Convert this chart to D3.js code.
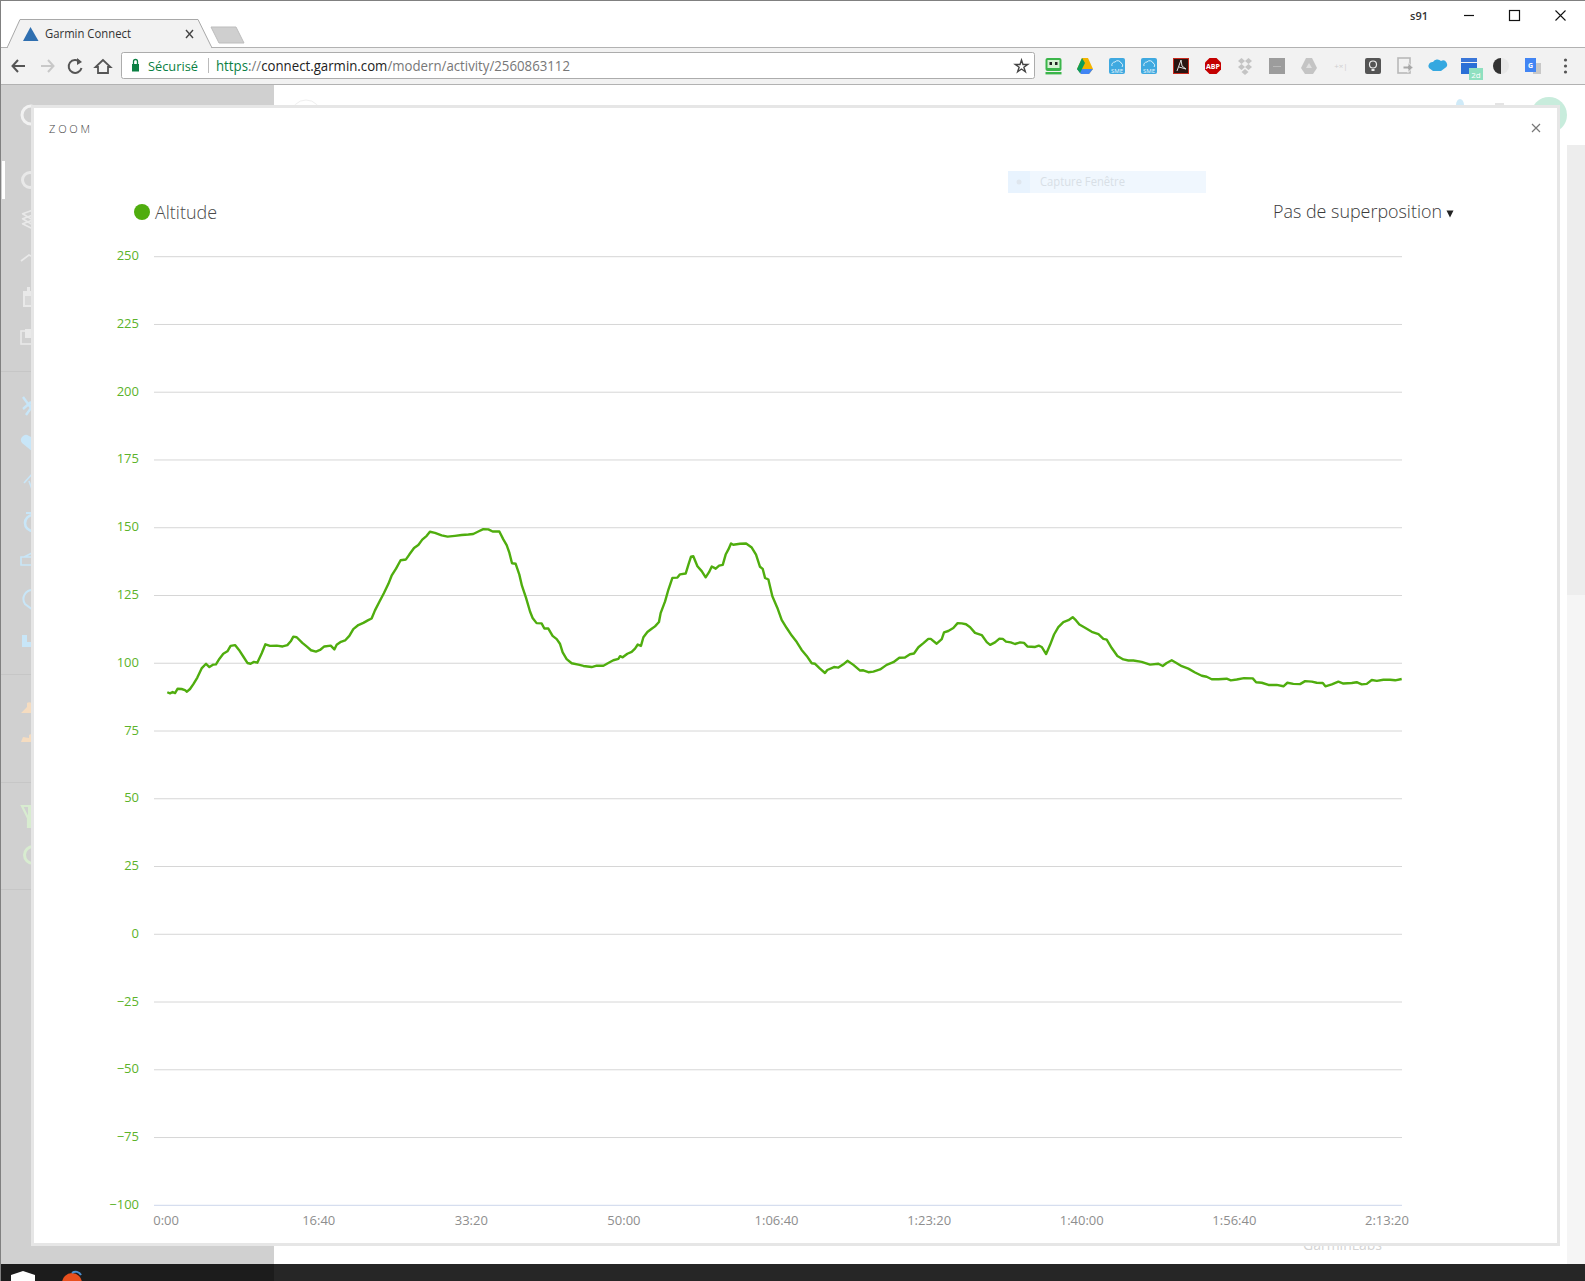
<!DOCTYPE html>
<html><head><meta charset="utf-8"><title>Garmin Connect</title>
<script src="https://cdn.jsdelivr.net/npm/d3@7"></script>
<style>html,body{margin:0;padding:0;background:#fff;overflow:hidden}svg{display:block}text{font-family:"Open Sans",sans-serif}</style>
</head><body><div id="chart"></div>
<script>
// ---------- chart data ----------
const seriesName = "Altitude";
const overlayLabel = "Pas de superposition";
const altitudeTicks = [250,225,200,175,150,125,100,75,50,25,0,-25,-50,-75,-100];
const timeTicks = [0,1000,2000,3000,4000,5000,6000,7000,8000];
const elapsedSeconds = [5,23,40,56,73,99,121,134,154,176,202,230,259,281,307,324,346,372,399,420,449,475,503,530,551,573,595,624,648,678,722,761,792,814,831,853,890,918,947,979,1006,1034,1076,1100,1115,1143,1170,1198,1224,1257,1290,1322,1344,1366,1395,1425,1454,1475,1504,1534,1569,1591,1622,1650,1676,1705,1726,1759,1803,1842,1890,1934,1978,2010,2043,2076,2109,2137,2181,2207,2229,2247,2264,2288,2312,2329,2356,2382,2399,2425,2458,2476,2502,2530,2557,2578,
2596,2622,2655,2699,2732,2786,2819,2863,2895,2928,2961,2972,2989,3020,3048,3070,3088,3109,3125,3151,3179,3201,3227,3238,3267,3289,3315,3348,3365,3402,3420,3437,3452,3479,3507,3533,3555,3573,3599,3621,3645,3664,3682,3699,3714,3758,3798,3835,3863,3889,3907,3922,3944,3970,4003,4031,4064,4097,4130,4162,4195,4228,4250,4282,4315,4330,4374,4403,4435,4462,4501,4545,4566,4599,4632,4676,4719,4763,4802,4839,4872,4898,4927,4960,4992,5008,5047,5080,5095,5123,5156,5184,
5211,5239,5266,5298,5342,5375,5397,5429,5458,5480,5501,5532,5560,5593,5619,5641,5692,5716,5735,5764,5790,5816,5844,5877,5910,5938,5960,5982,6019,6063,6107,6139,6161,6194,6231,6270,6303,6336,6390,6445,6500,6528,6554,6587,6615,6653,6696,6740,6784,6816,6849,6893,6947,6974,7013,7061,7118,7140,7177,7221,7275,7319,7345,7384,7428,7461,7505,7537,7577,7594,7636,7679,7712,7767,7799,7832,7865,7898,7931,7974,8018,8051,8094];
const altitudeValues = [89.3,88.9,89.4,89.0,90.6,90.5,90.1,89.5,90.5,92.3,94.7,98.1,99.8,98.6,99.5,99.6,101.6,103.5,104.4,106.4,106.7,104.9,102.5,100.1,99.8,100.5,100.2,103.7,107.0,106.4,106.5,106.2,106.7,108.1,109.8,109.6,107.5,106.2,104.8,104.3,104.9,106.2,106.5,105.1,106.8,107.9,108.4,110.1,112.6,114.1,114.9,115.9,116.5,119.5,122.7,125.9,129.3,132.3,134.9,138.0,138.3,140.1,142.5,143.6,145.6,147.0,148.5,148.1,147.2,146.7,147.0,147.3,147.5,147.7,148.6,149.5,149.4,148.6,148.6,145.7,143.6,140.7,136.9,136.7,132.7,128.6,124.1,119.1,116.7,114.8,114.7,112.8,112.8,110.1,108.9,107.2,
104.0,101.5,100.0,99.5,99.0,98.6,99.1,99.1,100.1,101.1,101.6,102.6,102.2,103.5,104.2,105.4,106.9,106.4,109.6,111.5,112.7,113.6,115.2,118.5,122.8,127.2,131.5,131.6,132.8,133.1,136.4,139.3,139.5,135.8,134.0,131.7,133.6,135.7,134.9,136.0,136.3,140.1,142.0,144.2,143.7,144.1,144.2,142.7,140.1,135.6,134.8,131.5,130.9,124.7,120.4,116.0,113.0,110.2,107.8,104.9,102.7,100.0,99.8,98.0,96.4,97.5,98.6,98.4,99.6,100.9,99.4,97.3,97.4,96.7,96.9,97.7,99.4,100.4,102.0,102.1,103.3,103.6,105.9,107.4,109.0,109.0,107.2,108.9,111.4,111.9,113.0,114.8,
114.7,114.4,113.3,111.2,110.4,107.8,106.8,107.7,109.1,109.0,108.0,107.7,107.1,107.7,107.5,106.2,106.0,106.5,106.0,103.4,106.8,110.6,113.3,115.2,115.9,117.0,115.8,114.3,113.1,111.6,110.7,109.0,108.7,105.6,102.7,101.4,101.0,101.0,100.5,99.5,99.8,99.0,100.1,101.1,100.2,98.9,98.0,96.6,95.4,95.0,94.1,94.1,94.3,93.7,94.0,94.5,94.4,93.0,92.8,92.0,92.0,91.5,92.8,92.4,92.3,93.4,93.2,92.8,92.7,91.5,92.2,93.2,92.5,92.7,93.0,92.2,92.4,93.8,93.5,93.9,93.9,93.7,94.2];
const extensionCenters = [1053.5,1085,1117,1149,1181,1213,1245,1277,1309,1341,1373,1405,1437,1469,1501,1533];

// ---------- helpers ----------
const W = 1585, H = 1281;
const svg = d3.select("#chart").append("svg").attr("width",W).attr("height",H).attr("viewBox",`0 0 ${W} ${H}`);
const rect=(g,x,y,w,h,f,extra={})=>{const r=g.append("rect").attr("x",x).attr("y",y).attr("width",w).attr("height",h).attr("fill",f);for(const k in extra)r.attr(k,extra[k]);return r;};
const txt=(g,s,x,y,size,fill,extra={})=>{const t=g.append("text").attr("x",x).attr("y",y).attr("font-size",size).attr("fill",fill).text(s);for(const k in extra)t.attr(k,extra[k]);return t;};
const path=(g,d,fill,stroke,sw)=>g.append("path").attr("d",d).attr("fill",fill||"none").attr("stroke",stroke||"none").attr("stroke-width",sw||1);
const circ=(g,cx,cy,r,f,st,sw)=>g.append("circle").attr("cx",cx).attr("cy",cy).attr("r",r).attr("fill",f).attr("stroke",st||"none").attr("stroke-width",sw||1);

// ---------- page behind the dialog ----------
const page = svg.append("g");
rect(page,0,0,W,H,"#ffffff");
rect(page,0,85,274,1180,"#d0d0d0");
rect(page,1567,145,18,1120,"#f5f5f5");
rect(page,1567,145,18,450,"#ededed");
// sidebar ghosts
const side=page.append("g");
const WH="#e9e9e9",BL="#c8e6f8",OR="#f5dcc0",GR="#d8ecd0";
rect(side,2,161,3,38,"#ffffff");
circ(side,31,115,9,"none","#f2f2f2",3);
circ(side,30,180,7.5,"none",WH,3);
path(side,"M22 214 L33 210 M22 219 L33 215 M22 224 L33 220 M23 214 L33 220 M23 219 L33 225 M23 224 L33 229","none",WH,1.6);
path(side,"M21 261 L29 255 L33 257 L33 255","none",WH,1.6);
rect(side,23,291,10,16,WH);rect(side,27,287,3,5,WH);rect(side,25,296,8,9,"#d8d8d8");
rect(side,21,331,12,13,"none",{stroke:WH,"stroke-width":1.6});rect(side,25,329,8,9,WH);
path(side,"M23 397 L31 408 L26 415 M31 408 L33 396 M31 402 L23 409","none",BL,2.4);
path(side,"M33 452 L22 443 A5 5 0 0 1 29 436 L33 438 Z",BL);
path(side,"M24 483 L33 473 M29 481 L33 492","none",BL,1.6);
circ(side,33,523,8,"none",BL,2.6);rect(side,26,512,7,2,BL);
path(side,"M21 557 L33 557 L33 565 L21 565 Z M24 557 L32 553","none",BL,1.6);
path(side,"M33 590 A9 9 0 0 0 25 604 L33 610","none",BL,2);
rect(side,22,635,5,12,BL);rect(side,27,642,6,5,BL);
path(side,"M21 713 L33 713 L33 705 A4 4 0 0 0 27 703 L27 707 Z",OR);
path(side,"M21 742 L33 742 L33 733 L29 735 L29 738 L23 737 Z",OR);
path(side,"M22 806 L33 806 L33 820 L29 827 L33 827 L28 827 L28 818 Z","none",GR,2.2);
rect(side,28,806,5,20,GR);
circ(side,33,855,8.5,"none",GR,3);
[371,674,782,889].forEach(yy=>rect(side,0,yy,274,1,"#c6c6c6"));
// header ghosts behind the dialog
circ(page,306,115,15,"#fff","#efefef");
page.append("ellipse").attr("cx",1460).attr("cy",105).attr("rx",4).attr("ry",6).attr("fill","#cfeaf8");
rect(page,1495,103,9,2,"#e4e4e4");
circ(page,1549,115,18,"#c8ecdc");
txt(page,"GarminLabs",1303,1250,14,"#d4d4d4",{textLength:79,lengthAdjust:"spacingAndGlyphs"});

// ---------- dialog ----------
rect(svg,32.5,106.5,1526,1138,"#ffffff",{stroke:"#e6e6e6","stroke-width":3});
txt(svg,"ZOOM",49,133,11,"#444444",{"letter-spacing":"2.8px","font-weight":300});
path(svg,"M1532 124 L1540 132 M1540 124 L1532 132","none","#777",1.2);
rect(svg,1008,171,198,22,"#f0f7fe");
rect(svg,1008,171,22,22,"#e8f3fe");
circ(svg,1019,182,2.5,"#dfe6ee");
txt(svg,"Capture Fenêtre",1040,186,12,"#d8dfe6",{textLength:85,lengthAdjust:"spacingAndGlyphs"});

// legend
circ(svg,142,212,8,"#4fad0e");
txt(svg,seriesName,155,219,18,"#4a4a4a",{"font-weight":300,textLength:62,lengthAdjust:"spacingAndGlyphs"});
txt(svg,overlayLabel,1273,218,18,"#3a3a3a",{"font-weight":300,textLength:169,lengthAdjust:"spacingAndGlyphs"});
path(svg,"M1446.5 210.5 L1453.5 210.5 L1450 217.5 Z","#222");

// ---------- chart ----------
const x = d3.scaleLinear().domain([-82,8096]).range([154,1402]);
const y = d3.scaleLinear().domain([-100,250]).range([1205.3,256.7]);
const clock = s => {const h=Math.floor(s/3600),m=Math.floor((s%3600)/60),ss=String(s%60).padStart(2,"0");return h?`${h}:${String(m).padStart(2,"0")}:${ss}`:`${m}:${ss}`;};

const gy = svg.append("g").attr("transform","translate(154,0)")
  .call(d3.axisLeft(y).offset(0).tickValues(altitudeTicks).tickSize(-(1402-154)).tickPadding(15));
gy.select(".domain").remove();
gy.selectAll(".tick line").attr("stroke",d=>d===-100?"#ccd6eb":"#d6d6d6").attr("stroke-width",1);
gy.selectAll(".tick text").attr("fill","#5cb32a").attr("font-size",13).attr("font-family",'"Open Sans",sans-serif').attr("dy","0.27em");

const gx = svg.append("g").attr("transform","translate(-0.4,1205.3)")
  .call(d3.axisBottom(x).offset(0).tickValues(timeTicks).tickFormat(clock).tickSize(0).tickPadding(10));
gx.select(".domain").remove();
gx.selectAll(".tick text").attr("fill","#8e8e8e").attr("font-size",13).attr("font-family",'"Open Sans",sans-serif');

const points = elapsedSeconds.map((t,i)=>[t,altitudeValues[i]]);
svg.append("path").attr("d",d3.line().x(d=>x(d[0])).y(d=>y(d[1]))(points))
  .attr("fill","none").attr("stroke","#4fad0e").attr("stroke-width",2.4).attr("stroke-linejoin","round");

// ---------- browser chrome ----------
const c = svg.append("g");
rect(c,0,47,W,38,"#f2f2f2");
rect(c,0,47,W,1,"#b2b2b2");
rect(c,0,84,W,1,"#b2b2b2");
rect(c,0,0,W,1,"#808080");
rect(c,0,0,1,1281,"#808080");
path(c,"M7 48 L20 19.5 L198 19.5 L212 48","#f2f2f2","#a8a8a8",1);
rect(c,8,46.5,203,2,"#f2f2f2");
path(c,"M211 27 L236 27 L244 43 L219 43 Z","#cfcfcf","#bdbdbd",1);
path(c,"M30.5 27 L38.5 41 L23 41 Z","#2f6fb0");
txt(c,"Garmin Connect",45,38,12.5,"#333",{textLength:86,lengthAdjust:"spacingAndGlyphs"});
path(c,"M186 30 L193 38 M193 30 L186 38","none","#444",1.4);
// nav buttons
path(c,"M25 66 L13 66 M18 60 L12.5 66 L18 72","none","#555",2);
path(c,"M53 66 L41 66 M48 60 L53.5 66 L48 72","none","#c8c8c8",2);
path(c,"M80 62 A6.5 6.5 0 1 0 81.5 68","none","#555",2);
path(c,"M77 58 L82 62 L77 65 Z","#555");
path(c,"M103 60 L95.5 67 L98 67 L98 73 L108 73 L108 67 L110.5 67 Z","none","#555",1.8);
// omnibox
rect(c,121.5,52.5,913,26,"#ffffff",{stroke:"#acacac",rx:2});
rect(c,132,64,7,7.5,"#0b8043");
path(c,"M133.5 64 L133.5 61.5 A2 2 0 0 1 137.5 61.5 L137.5 64","none","#0b8043",1.3);
txt(c,"Sécurisé",148,71,13.5,"#0b8043",{textLength:50,lengthAdjust:"spacingAndGlyphs"});
rect(c,208,58,1,15,"#bbb");
const url=txt(c,"",216,71,14,"#777",{textLength:354,lengthAdjust:"spacingAndGlyphs"});
url.append("tspan").attr("fill","#0b8043").text("https");
url.append("tspan").attr("fill","#777").text("://");
url.append("tspan").attr("fill","#222").text("connect.garmin.com");
url.append("tspan").attr("fill","#777").text("/modern/activity/2560863112");
const star=d3.symbol().type(d3.symbolStar).size(48)();
c.append("path").attr("d",star).attr("transform","translate(1021.5,66.5)").attr("fill","none").attr("stroke","#444").attr("stroke-width",1.4);
// extension icons
const C=extensionCenters;
{ let cx=C[0];rect(c,cx-8,58,16,13,"#3bb54a",{rx:2});rect(c,cx-6,60,12,8,"#d6f1d3");rect(c,cx-8,72,16,2.4,"#3bb54a");rect(c,cx-4,62,2.5,3,"#222");rect(c,cx+1.5,62,2.5,3,"#222"); }
{ let cx=C[1];path(c,`M${cx-3} 58 L${cx+3} 58 L${cx+8} 69 L${cx+4} 74 L${cx-4} 74 L${cx-8} 69 Z`,"#f4b400");path(c,`M${cx-8} 69 L${cx-4} 74 L${cx+4} 74 L${cx+8} 69 Z`,"#4285f4");path(c,`M${cx-3} 58 L${cx-8} 69 L${cx-5} 73 L${cx} 63 Z`,"#0f9d58"); }
[C[2],C[3]].forEach(cx=>{rect(c,cx-8,58,16,16,"#3fa9e0",{rx:2});path(c,`M${cx-5} 66 A3 3 0 0 1 ${cx-2} 62 A3.5 3.5 0 0 1 ${cx+4} 63 A2.5 2.5 0 0 1 ${cx+5} 67`,"none","#d8f0fb",1);txt(c,"SME",cx,72.5,6,"#e8f6fc",{"text-anchor":"middle"});});
{ let cx=C[4];rect(c,cx-7.5,58.5,15,15,"#2a1512",{stroke:"#c8281c"});path(c,`M${cx-4} 71 L${cx} 60 L${cx+1} 66 L${cx+5} 69 L${cx-2} 67`,"none","#ddd",1); }
{ let cx=C[5];path(c,`M${cx-3.5} 58 L${cx+3.5} 58 L${cx+8} 62.5 L${cx+8} 69.5 L${cx+3.5} 74 L${cx-3.5} 74 L${cx-8} 69.5 L${cx-8} 62.5 Z`,"#c40000");txt(c,"ABP",cx,69,7,"#fff",{"text-anchor":"middle","font-weight":700}); }
{ let cx=C[6];[[-3.5,-5],[3.5,-5],[-3.5,1],[3.5,1],[0,6]].forEach(p=>path(c,`M${cx+p[0]} ${66+p[1]-3} L${cx+p[0]+3.5} ${66+p[1]} L${cx+p[0]} ${66+p[1]+3} L${cx+p[0]-3.5} ${66+p[1]} Z`,"#c4c4c4")); }
{ let cx=C[7];rect(c,cx-8,58,16,16,"#9c9c9c");rect(c,cx-4,66,8,1,"#b8b8b8"); }
{ let cx=C[8];path(c,`M${cx-3} 58 L${cx+3} 58 L${cx+8} 68 L${cx+4} 74 L${cx-4} 74 L${cx-8} 68 Z`,"#c4c4c4");path(c,`M${cx} 63 L${cx+3} 68 L${cx-3} 68 Z`,"#e0e0e0"); }
{ let cx=C[9];txt(c,"+×|",cx,69,8,"#cfcfcf",{"text-anchor":"middle"}); }
{ let cx=C[10];rect(c,cx-8,58,16,16,"#555",{rx:2});circ(c,cx,64.5,3.5,"none","#eee",1.2);rect(c,cx-1.5,69,3,2,"#eee"); }
{ let cx=C[11];rect(c,cx-7,58,12,15,"none",{stroke:"#b8b8b8","stroke-width":1.6});path(c,`M${cx-2} 66 L${cx+3} 66 L${cx+3} 62.5 L${cx+8} 67.5 L${cx+3} 72.5 L${cx+3} 69 L${cx-2} 69 Z`,"#a8a8a8","#f2f2f2",1); }
{ let cx=C[12];path(c,`M${cx-8} 68 A4 4 0 0 1 ${cx-4} 62 A5 5 0 0 1 ${cx+4} 61 A4 4 0 0 1 ${cx+8} 68 L${cx+4} 71 L${cx-4} 71 Z`,"#35a8e0"); }
{ let cx=C[13];rect(c,cx-8,58,16,4,"#3a76d8");rect(c,cx-8,63,16,11,"#2a6fd6");rect(c,cx+0,68,14,12,"#8fe0c0");txt(c,"2d",cx+7,78,8,"#fff",{"text-anchor":"middle"}); }
{ let cx=C[14];circ(c,cx,66,8,"#e8e8e8");path(c,`M${cx} 58 A8 8 0 0 0 ${cx} 74 Z`,"#333"); }
{ let cx=C[15];rect(c,cx+0,63,8,11,"#c8c8c8");rect(c,cx-8,58,11,14,"#4285f4");txt(c,"G",cx-2.5,68,7,"#fff",{"text-anchor":"middle","font-weight":700}); }
[60,66,72].forEach(yy=>circ(c,1565.5,yy,1.6,"#555"));
// window controls
txt(c,"s91",1419,20,11,"#333",{"text-anchor":"middle","font-weight":600});
path(c,"M1464 15.5 L1474 15.5","none","#111",1.2);
rect(c,1509.5,10.5,10,10,"none",{stroke:"#111","stroke-width":1.2});
path(c,"M1555.5 10.5 L1565.5 20.5 M1565.5 10.5 L1555.5 20.5","none","#111",1.1);
// taskbar
rect(c,1,1264,W,17,"#262626");
rect(c,1,1264,273,17,"#1c1c1c");
path(c,"M11 1281 L11 1275 L23 1271 L35 1275 L35 1281 Z","#fff");
circ(c,72,1283,10,"#e8501e");
path(c,"M72 1273 A6 6 0 0 1 81 1275","none","#4a8fd0",2);
</script></body></html>
